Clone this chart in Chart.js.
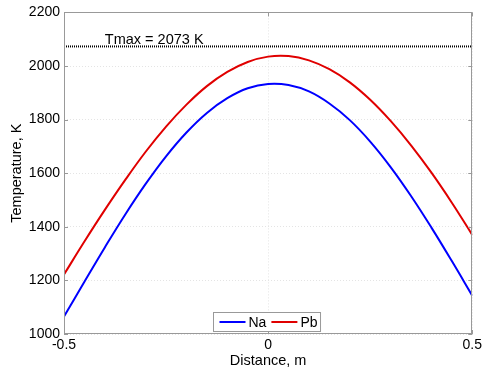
<!DOCTYPE html>
<html><head><meta charset="utf-8">
<script src="https://cdn.jsdelivr.net/npm/chart.js@4.4.0/dist/chart.umd.min.js"></script>
<style>html,body{margin:0;padding:0;background:#fff;}#wrap{width:485px;height:373px;}</style>
</head><body><div id="wrap"><canvas id="c" width="485" height="373"></canvas></div>
<script>
// ---- data ----
const distance = [-0.5, -0.45, -0.4, -0.35, -0.3, -0.25, -0.2, -0.15, -0.1, -0.05, 0,
                  0.05, 0.1, 0.15, 0.2, 0.25, 0.3, 0.35, 0.4, 0.45, 0.5];
const naTemp = [1065, 1195, 1323, 1446, 1560, 1663, 1752, 1825, 1880, 1917, 1933,
                1929, 1905, 1860, 1798, 1718, 1623, 1515, 1397, 1272, 1143];
const pbTemp = [1222, 1345, 1463, 1575, 1680, 1774, 1856, 1925, 1978, 2015, 2035,
                2037, 2021, 1988, 1939, 1874, 1795, 1704, 1602, 1490, 1370];
const tmaxDistance = [-0.5, 0.5];
const tmaxTemp = [2073, 2073];
const tmaxLabel = 'Tmax = 2073 K';
const tmaxLabelDistance = -0.4;
const seriesNames = ['Na', 'Pb'];
const xTicks = [-0.5, 0, 0.5];
const yTicks = [1000, 1200, 1400, 1600, 1800, 2000, 2200];
const xTitle = 'Distance, m';
const yTitle = 'Temperature, K';

const FONT = '"Liberation Sans", Arial, Helvetica, sans-serif';
const toXY = (xs, ys) => xs.map((x, i) => ({x: x, y: ys[i]}));

const framePlugin = {
  id: 'frame',
  afterDraw(chart) {
    const ctx = chart.ctx, a = chart.chartArea;
    const xs = chart.scales.x, ys = chart.scales.y;
    ctx.save();
    ctx.strokeStyle = '#999999';
    ctx.lineWidth = 1;
    ctx.strokeRect(Math.round(a.left) + 0.5, Math.round(a.top) + 0.5,
                   Math.round(a.right - a.left) - 1, Math.round(a.bottom - a.top) - 1);
    ctx.beginPath();
    const tl = 4;
    ys.ticks.forEach(t => {
      const py = Math.round(ys.getPixelForValue(t.value)) + 0.5;
      ctx.moveTo(a.left, py); ctx.lineTo(a.left + tl, py);
      ctx.moveTo(a.right, py); ctx.lineTo(a.right - tl, py);
    });
    xs.ticks.forEach(t => {
      const px = Math.round(xs.getPixelForValue(t.value)) + 0.5;
      ctx.moveTo(px, a.bottom); ctx.lineTo(px, a.bottom - tl);
      ctx.moveTo(px, a.top); ctx.lineTo(px, a.top + tl);
    });
    ctx.stroke();

    // Tmax annotation text
    ctx.fillStyle = '#000';
    ctx.font = '14.5px ' + FONT;
    ctx.textAlign = 'left';
    ctx.textBaseline = 'alphabetic';
    ctx.fillText(tmaxLabel, xs.getPixelForValue(tmaxLabelDistance), ys.getPixelForValue(tmaxTemp[0]) - 2);

    // legend inside the plot, bottom centre
    const items = chart.data.datasets.filter(d => seriesNames.includes(d.label));
    ctx.font = '14px ' + FONT;
    const lineLen = 26, padL = 6, gapTxt = 3, gapItem = 5, padR = 3, h = 19;
    let w = padL;
    items.forEach((d, i) => {
      w += lineLen + gapTxt + ctx.measureText(d.label).width + (i < items.length - 1 ? gapItem : padR);
    });
    const cx = (a.left + a.right) / 2 - 2;
    const bx = Math.round(cx - w / 2) + 0.5;
    const by = Math.round(a.bottom - 3 - h) + 0.5;
    ctx.fillStyle = '#fff';
    ctx.fillRect(bx, by, w, h);
    ctx.strokeStyle = '#999999';
    ctx.lineWidth = 1;
    ctx.strokeRect(bx, by, w, h);
    let x = bx + padL;
    const my = by + h / 2;
    items.forEach((d, i) => {
      ctx.strokeStyle = d.borderColor;
      ctx.lineWidth = 2;
      ctx.beginPath(); ctx.moveTo(x, my); ctx.lineTo(x + lineLen, my); ctx.stroke();
      x += lineLen + gapTxt;
      ctx.fillStyle = '#000';
      ctx.textBaseline = 'middle';
      ctx.fillText(d.label, x, my + 1);
      x += ctx.measureText(d.label).width + gapItem;
    });
    ctx.restore();
  }
};

new Chart(document.getElementById('c'), {
  type: 'line',
  data: {
    datasets: [
      {label: 'Tmax', data: toXY(tmaxDistance, tmaxTemp), borderColor: '#000', borderWidth: 2,
       borderDash: [1, 1], pointRadius: 0, tension: 0},
      {label: seriesNames[0], data: toXY(distance, naTemp), borderColor: '#0000ff', borderWidth: 2,
       pointRadius: 0, tension: 0.4},
      {label: seriesNames[1], data: toXY(distance, pbTemp), borderColor: '#e00000', borderWidth: 2,
       pointRadius: 0, tension: 0.4}
    ]
  },
  options: {
    responsive: false,
    animation: false,
    devicePixelRatio: 1,
    layout: {padding: {top: 10, right: 11, left: 0, bottom: 0}},
    plugins: {legend: {display: false}, tooltip: {enabled: false}},
    scales: {
      x: {
        type: 'linear', min: -0.5, max: 0.5,
        afterBuildTicks: s => { s.ticks = xTicks.map(v => ({value: v})); },
        afterFit: s => { s.height = 39; },
        ticks: {padding: 3, color: '#000', font: {family: FONT, size: 14}, callback: v => String(v)},
        grid: {color: '#e4e4e4', lineWidth: 1, drawTicks: false},
        border: {display: false, dash: [1, 2]},
        title: {display: true, text: xTitle, color: '#000', font: {family: FONT, size: 14.5},
                padding: {top: 0, bottom: 3}}
      },
      y: {
        type: 'linear', min: 1000, max: 2200,
        afterBuildTicks: s => { s.ticks = yTicks.map(v => ({value: v})); },
        afterFit: s => { s.width = 64; },
        ticks: {padding: 4, color: '#000', font: {family: FONT, size: 14}, callback: v => String(v)},
        grid: {color: '#e4e4e4', lineWidth: 1, drawTicks: false},
        border: {display: false, dash: [1, 2]},
        title: {display: true, text: yTitle, color: '#000', font: {family: FONT, size: 14.5},
                padding: {top: 8, bottom: 0}}
      }
    }
  },
  plugins: [framePlugin]
});
</script></body></html>
